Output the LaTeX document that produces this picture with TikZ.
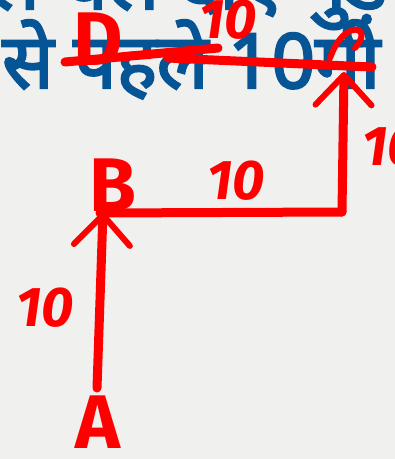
\documentclass[tikz,border=0pt]{standalone}
\usepackage{fontspec}
\setmainfont{Fira Sans}
\newfontfamily\hindi[Script=Devanagari,FakeBold=3]{Noto Sans}
\usetikzlibrary{arrows.meta}
\definecolor{bgc}{RGB}{240,240,238}
\definecolor{pen}{RGB}{255,0,0}
\definecolor{ink}{RGB}{5,84,150}
\begin{document}
\begin{tikzpicture}[x=1pt,y=-1pt,
  stroke/.style={draw=pen,line width=9pt,line cap=round,line join=round},
  thinstroke/.style={draw=pen,line width=6pt,line cap=round,line join=round},
  letter/.style={text=pen,inner sep=0pt,font=\fontsize{76}{76}\selectfont\bfseries},
  num/.style={text=pen,inner sep=0pt,font=\fontsize{56}{56}\selectfont\bfseries\itshape},
  hindiline/.style={text=ink,inner sep=0pt,anchor=base west,font=\hindi\fontsize{76}{76}\selectfont},
  barb/.style={-{Straight Barb[length=30pt,width=56pt,line width=6pt,round]}}
]
\fill[bgc] (0,0) rectangle (395,459);
\useasboundingbox (0,0) rectangle (395,459);
\clip (0,0) rectangle (395,459);
% blue Hindi text
\node[hindiline] (h1) at (-12,9) {ले चलें दाएँ मुड़ें};
\node[hindiline] (h2) at (2,88) {से पहले 10मी};
% labels
\node[letter] (A) at (98,422) {A};
\node[letter] (B) at (113,185) {B};
\node[letter] (D) at (98,39) {D};
\node[num] (n1) at (228,20) {10};
\node[num] (n2) at (236,181) {10};
\node[num,anchor=west] (n3) at (362,147) {10};
\node[num] (n4) at (45,308) {10};
% path points
\coordinate (pA) at (97,388);
\coordinate (pB) at (103,212);
\coordinate (pB2) at (100,213);
\coordinate (corner) at (342,212);
\coordinate (pC) at (344,72);
\coordinate (pD) at (65,62);
\coordinate (pD2) at (218,48);
\coordinate (pM) at (168,58);
\coordinate (pC2) at (372,67);
% connectors
\draw[stroke,barb] (pA) -- (pB);
\draw[stroke] (pB2) -- (corner);
\draw[stroke,barb] (corner) -- (pC);
\draw[stroke] (pD) -- (pD2);
\draw[stroke] (pM) -- (pC2);
% scribble at C
\draw[thinstroke] (330,58) .. controls (338,36) and (350,28) .. (358,30) .. controls (364,32) and (362,40) .. (355,48);
\end{tikzpicture}
\end{document}
